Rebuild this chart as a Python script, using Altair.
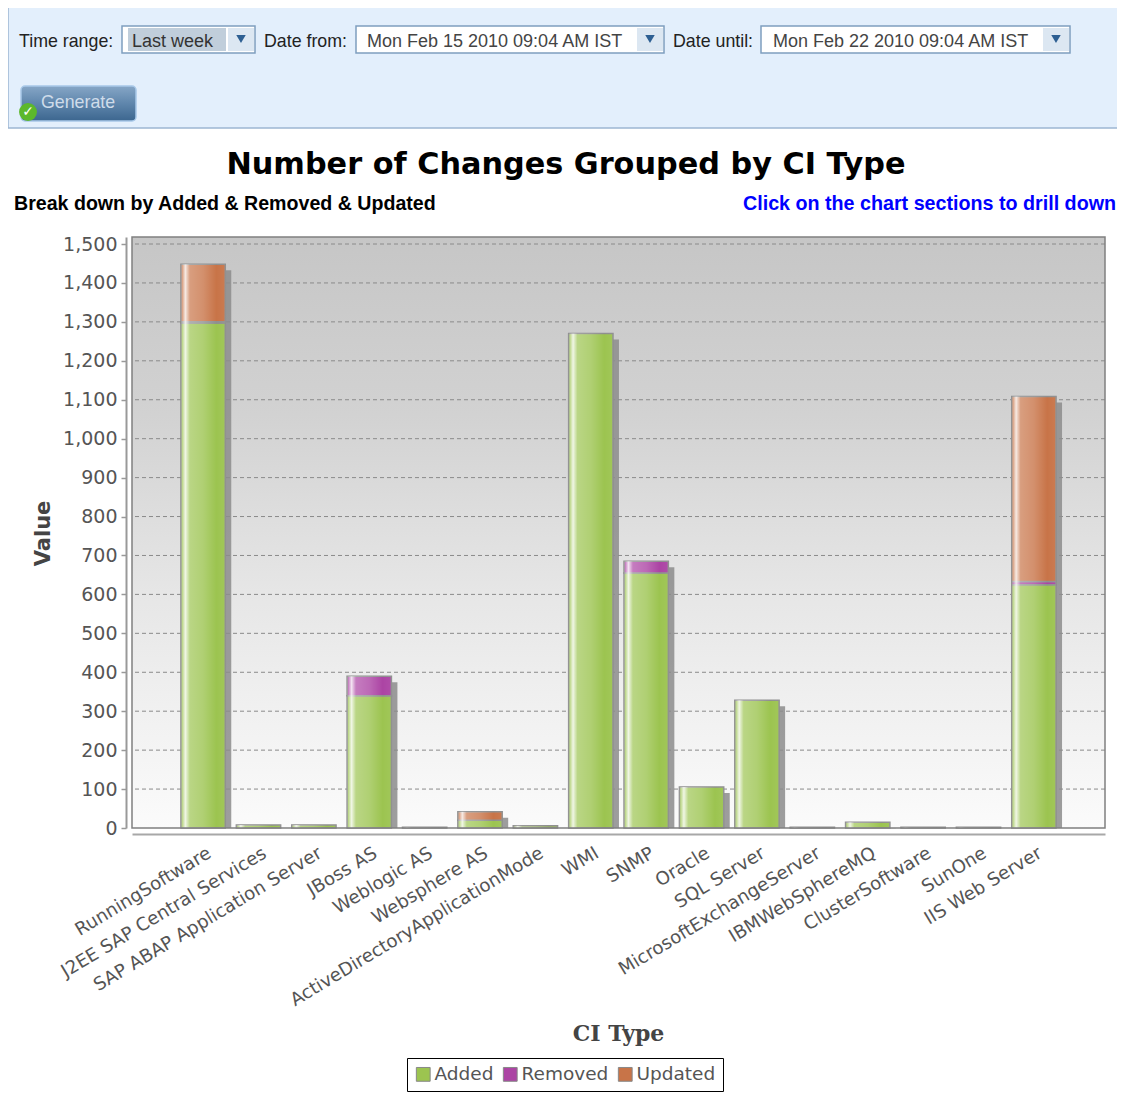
import altair as alt
import pandas as pd

categories = ["RunningSoftware", "J2EE SAP Central Services", "SAP ABAP Application Server", "JBoss AS",
              "Weblogic AS", "Websphere AS", "ActiveDirectoryApplicationMode", "WMI", "SNMP", "Oracle",
              "SQL Server", "MicrosoftExchangeServer", "IBMWebSphereMQ", "ClusterSoftware", "SunOne", "IIS Web Server"]
added = [1297, 8, 8, 340, 2, 20, 6, 1270, 655, 105, 328, 2, 15, 2, 2, 625]
removed = [3, 0, 0, 50, 0, 0, 0, 0, 30, 0, 0, 0, 0, 0, 0, 8]
updated = [148, 0, 0, 0, 0, 22, 0, 0, 0, 0, 0, 0, 0, 0, 0, 475]
series_names = ["Added", "Removed", "Updated"]
series_colors = ["#9cc450", "#ac44a4", "#c87448"]
y_ticks = list(range(0, 1600, 100))

W, H = 973, 591
OX, OY = 132, 237   # plot-area origin in page pixels

rows = []
totals = []
for i, c in enumerate(categories):
    base = 0
    for name, vals in zip(series_names, (added, removed, updated)):
        if vals[i] > 0:
            rows.append({"cat": c, "series": name, "base": base, "top": base + vals[i]})
            base += vals[i]
    totals.append({"cat": c, "base": 0, "top": base})
seg = pd.DataFrame(rows)
tot = pd.DataFrame(totals)
one = pd.DataFrame({"a": [0]})

xaxis = alt.Axis(
    title="CI Type", titleFont="DejaVu Serif", titleFontSize=22, titleFontWeight="bold", titleColor="#444444",
    titleX=486, titleY=189, labelAngle=329, labelAlign="right", labelBaseline="top", labelFontSize=18.2, labelColor="#555555",
    labelFont="DejaVu Sans", labelPadding=10, labelOffset=2, tickSize=0, offset=6, domainColor="#a8a8a8", domainWidth=2,
    labelOverlap=False, labelLimit=400)
yaxis = alt.Axis(
    title="Value", titleFont="DejaVu Sans", titleFontSize=21, titleFontWeight="bold", titleColor="#444444",
    titleX=-73, titleY=296, values=y_ticks, format=",d", labelFontSize=19, labelColor="#555555", labelFont="DejaVu Sans",
    labelPadding=4, tickSize=5, tickColor="#999999", tickWidth=1.5, offset=6, domainColor="#999999", domainWidth=2, grid=False)
xscale = alt.Scale(type="band", domain=categories, paddingInner=0.2, paddingOuter=0.884)
yscale = alt.Scale(domain=[0, 1518], nice=False, zero=True)
xplain = alt.X("cat:N", scale=xscale, axis=xaxis)
yplain = alt.Y("top:Q", scale=yscale, axis=yaxis)


def grad(stops, vertical=True):
    return alt.LinearGradient(
        gradient="linear",
        stops=[alt.GradientStop(color=c, offset=o) for o, c in stops],
        x1=0, y1=0, x2=0 if vertical else 1, y2=1 if vertical else 0,
    )


def rect(x0, y0, x1, y1, fill, stroke=None, sw=1, radius=0):
    kw = {"fill": fill, "strokeWidth": sw, "cornerRadius": radius}
    if stroke:
        kw["stroke"] = stroke
    return alt.Chart(one).mark_rect(**kw).encode(
        x=alt.value(x0 - OX), x2=alt.value(x1 - OX), y=alt.value(y0 - OY), y2=alt.value(y1 - OY))


def label(x, y, s, size=17.8, color="#222222", font="Liberation Sans", weight="normal", align="left"):
    return alt.Chart(one).mark_text(fontSize=size, color=color, font=font, fontWeight=weight,
                                    align=align, baseline="middle").encode(
        x=alt.value(x - OX), y=alt.value(y - OY), text=alt.value(s))


def combo(x0, x1, sel_x1=None):
    parts = [rect(x0, 26, x1, 53, "#ffffff", "#7f9fbf", 1.5)]
    if sel_x1:
        parts.append(rect(x0 + 6, 28, sel_x1, 51, "#c0cedb"))
    parts.append(rect(x1 - 27, 28, x1 - 1, 51, "#dce7f2"))
    parts.append(alt.Chart(one).mark_point(shape="triangle-down", filled=True, size=90, color="#2d5f92", opacity=1)
                 .encode(x=alt.value(x1 - 14 - OX), y=alt.value(39 - OY)))
    return parts


ui = [rect(8, 7, 1124, 128, "#e3effc", "#9db6d2", 1.5)]
ui += [label(19, 42, "Time range:")] + combo(122, 255, 226) + [label(132, 42, "Last week", color="#333333", size=18)]
ui += [label(264, 42, "Date from:")] + combo(356, 664) + [label(367, 42, "Mon Feb 15 2010 09:04 AM IST", color="#444444", size=18)]
ui += [label(673, 42, "Date until:")] + combo(761, 1070) + [label(773, 42, "Mon Feb 22 2010 09:04 AM IST", color="#444444", size=18)]
ui += [
    rect(21, 86, 136, 121, grad([(0, "#86a6c6"), (0.5, "#5f86ac"), (1, "#3c668f")]), "#a8c8e8", 1.5, 4),
    label(41, 103, "Generate", size=17.8, color="#cfdcea"),
    alt.Chart(one).mark_circle(size=320, color="#5cb82c", opacity=1).encode(x=alt.value(28 - OX), y=alt.value(112 - OY)),
    label(28, 112, "\u2713", size=14, color="#ffffff", font="DejaVu Sans", weight="bold", align="center"),
    label(566, 165, "Number of Changes Grouped by CI Type", size=30.3, color="#000000", font="DejaVu Sans", weight="bold", align="center"),
    label(14, 204, "Break down by Added & Removed & Updated", size=19.6, color="#000000", weight="bold"),
    label(1116, 204, "Click on the chart sections to drill down", size=19.7, color="#0000ff", weight="bold", align="right"),
]

background = rect(OX, OY, OX + W, OY + H, grad([(0, "#c6c6c6"), (0.3, "#d2d2d2"), (0.6, "#e6e6e6"), (1, "#fbfbfb")]))

grid = alt.Chart(pd.DataFrame({"top": y_ticks[1:]})).mark_rule(color="#8a8a8a", strokeDash=[4, 3], strokeWidth=1).encode(y=yplain)

shadow = alt.Chart(tot[tot["top"] >= 15]).mark_bar(color="#8c8c8c", opacity=0.85, xOffset=6, x2Offset=6, yOffset=6).encode(
    x=xplain, y=yplain, y2="base:Q")

bars = alt.Chart(seg).mark_bar(stroke="#8f8f8f", strokeWidth=1.5).encode(
    x=xplain, y=yplain, y2="base:Q",
    color=alt.Color("series:N", scale=alt.Scale(domain=series_names, range=series_colors), legend=alt.Legend(
        orient="none", legendX=275, legendY=821, direction="horizontal", title=None, strokeColor="#000000",
        fillColor="#ffffff", padding=7, labelFontSize=18.5, labelColor="#555555", labelFont="DejaVu Sans", symbolType="square",
        symbolSize=190, symbolStrokeColor="#888888", symbolStrokeWidth=1, columnPadding=7, labelOffset=2, rowPadding=0)),
)

highlight = alt.Chart(tot).mark_bar(fill=grad([
    (0, "rgba(255,255,255,0.1)"), (0.1, "rgba(255,255,255,0.85)"), (0.2, "rgba(255,255,255,0.3)"),
    (0.5, "rgba(255,255,255,0.2)"), (0.8, "rgba(255,255,255,0)"), (1, "rgba(255,255,255,0.05)")], vertical=False)).encode(
    x=xplain, y=yplain, y2="base:Q")

frame = alt.Chart(one).mark_rect(fill="transparent", stroke="#808080", strokeWidth=1.5).encode(
    x=alt.value(0), x2=alt.value(W), y=alt.value(0), y2=alt.value(H))

chart = alt.layer(*ui, background, grid, shadow, bars, highlight, frame).properties(
    width=W, height=H,
    padding={"left": OX - 8, "top": OY - 8, "right": 12, "bottom": 264},
    autosize=alt.AutoSizeParams(type="none", contains="content"),
).configure_view(stroke=None)

chart.save("out.html", embed_options={"renderer": "svg", "actions": False})
